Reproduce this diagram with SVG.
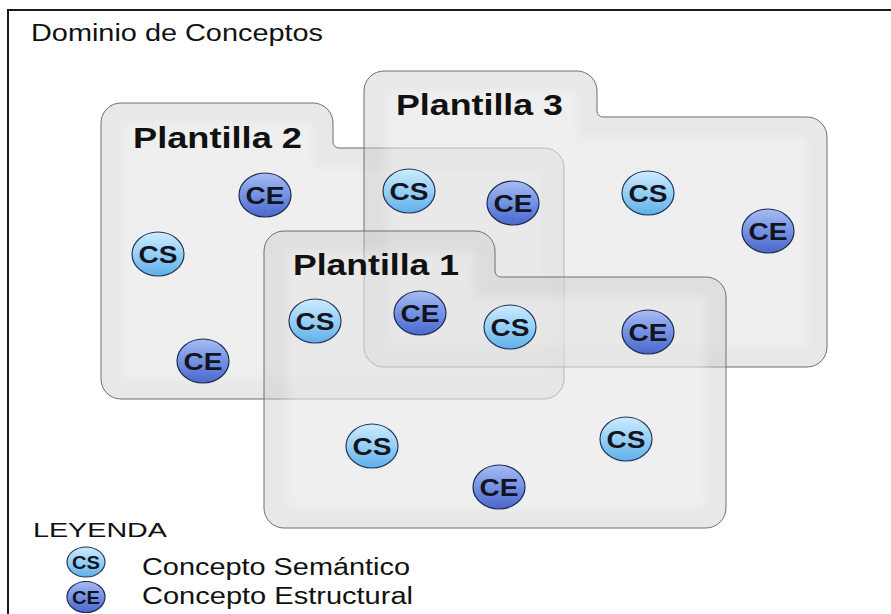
<svg xmlns="http://www.w3.org/2000/svg" width="891" height="614" viewBox="0 0 891 614">
<style>
  text { font-family: "Liberation Sans", Arial, sans-serif; fill: #111; }
  .box { fill: #cdcdcd; fill-opacity: 0.45; stroke: #6e6e6e; stroke-width: 1; }
  .inner { fill: #ffffff; fill-opacity: 0.3; filter: url(#soft); }
  .ptitle { font-size: 30px; font-weight: bold; }
  .cs ellipse { fill: url(#gcs); stroke: #25365a; stroke-width: 1.2; }
  .ce ellipse { fill: url(#gce); stroke: #1c2a52; stroke-width: 1.2; }
  .nlab { font-size: 24px; font-weight: bold; text-anchor: middle; fill: #14141e; }
  .llab { font-size: 18px; font-weight: bold; text-anchor: middle; fill: #14141e; }
  .leg { font-size: 23px; }
</style>
<defs>
  <linearGradient id="gcs" x1="0" y1="0" x2="0" y2="1">
    <stop offset="0" stop-color="#cdebfd"/>
    <stop offset="0.5" stop-color="#96d0f6"/>
    <stop offset="1" stop-color="#5fb0ea"/>
  </linearGradient>
  <linearGradient id="gce" x1="0" y1="0" x2="0" y2="1">
    <stop offset="0" stop-color="#a8bcf3"/>
    <stop offset="0.5" stop-color="#7392e3"/>
    <stop offset="1" stop-color="#4a68cc"/>
  </linearGradient>
  <filter id="soft" x="-10%" y="-10%" width="120%" height="120%">
    <feGaussianBlur stdDeviation="5"/>
  </filter>
</defs>
<rect width="891" height="614" fill="#ffffff"/>
<rect x="8" y="10" width="920" height="640" fill="none" stroke="#1a1a1a" stroke-width="2"/>
<text x="31" y="41" font-size="23" textLength="292" lengthAdjust="spacingAndGlyphs">Dominio de Conceptos</text>

<g id="plantilla2">
  <path class="box" d="M101,123 A20,20 0 0 1 121,103 H313 A20,20 0 0 1 333,123 V142 A6,6 0 0 0 339,148 H544 A20,20 0 0 1 564,168 V379 A20,20 0 0 1 544,399 H121 A20,20 0 0 1 101,379 Z"/>
  <path class="inner" d="M124,123 H313 V168 H544 V379 H124 Z"/>
</g>
<g id="plantilla3">
  <path class="box" d="M364,91 A20,20 0 0 1 384,71 H577 A20,20 0 0 1 597,91 V111 A6,6 0 0 0 603,117 H807 A20,20 0 0 1 827,137 V347 A20,20 0 0 1 807,367 H384 A20,20 0 0 1 364,347 Z"/>
  <path class="inner" d="M387,91 H577 V137 H807 V347 H387 Z"/>
</g>
<g id="plantilla1">
  <path class="box" d="M264,251 A20,20 0 0 1 284,231 H475 A20,20 0 0 1 495,251 V271 A6,6 0 0 0 501,277 H706 A20,20 0 0 1 726,297 V508 A20,20 0 0 1 706,528 H284 A20,20 0 0 1 264,508 Z"/>
  <path class="inner" d="M287,251 H475 V297 H706 V508 H287 Z"/>
</g>

<g id="labels">
  <text class="ptitle" x="133" y="148" textLength="169" lengthAdjust="spacingAndGlyphs">Plantilla 2</text>
  <text class="ptitle" x="396" y="115" textLength="167" lengthAdjust="spacingAndGlyphs">Plantilla 3</text>
  <text class="ptitle" x="293" y="275" textLength="166" lengthAdjust="spacingAndGlyphs">Plantilla 1</text>
</g>

<g id="connectors"/>

<g id="ce1" class="ce"><ellipse cx="265" cy="195" rx="26" ry="22"/><text class="nlab" x="265" y="203.5" textLength="39" lengthAdjust="spacingAndGlyphs">CE</text></g>
<g id="cs1" class="cs"><ellipse cx="158" cy="254" rx="26" ry="22"/><text class="nlab" x="158" y="262.5" textLength="39" lengthAdjust="spacingAndGlyphs">CS</text></g>
<g id="ce2" class="ce"><ellipse cx="203" cy="361" rx="26" ry="22"/><text class="nlab" x="203" y="369.5" textLength="39" lengthAdjust="spacingAndGlyphs">CE</text></g>
<g id="cs2" class="cs"><ellipse cx="409" cy="191" rx="26" ry="22"/><text class="nlab" x="409" y="199.5" textLength="39" lengthAdjust="spacingAndGlyphs">CS</text></g>
<g id="ce3" class="ce"><ellipse cx="513" cy="203" rx="26" ry="22"/><text class="nlab" x="513" y="211.5" textLength="39" lengthAdjust="spacingAndGlyphs">CE</text></g>
<g id="cs3" class="cs"><ellipse cx="648" cy="193" rx="26" ry="22"/><text class="nlab" x="648" y="201.5" textLength="39" lengthAdjust="spacingAndGlyphs">CS</text></g>
<g id="ce4" class="ce"><ellipse cx="768" cy="231" rx="26" ry="22"/><text class="nlab" x="768" y="239.5" textLength="39" lengthAdjust="spacingAndGlyphs">CE</text></g>
<g id="cs4" class="cs"><ellipse cx="315" cy="321" rx="26" ry="22"/><text class="nlab" x="315" y="329.5" textLength="39" lengthAdjust="spacingAndGlyphs">CS</text></g>
<g id="ce5" class="ce"><ellipse cx="420" cy="313" rx="26" ry="22"/><text class="nlab" x="420" y="321.5" textLength="39" lengthAdjust="spacingAndGlyphs">CE</text></g>
<g id="cs5" class="cs"><ellipse cx="510" cy="327" rx="26" ry="22"/><text class="nlab" x="510" y="335.5" textLength="39" lengthAdjust="spacingAndGlyphs">CS</text></g>
<g id="ce6" class="ce"><ellipse cx="648" cy="332" rx="26" ry="22"/><text class="nlab" x="648" y="340.5" textLength="39" lengthAdjust="spacingAndGlyphs">CE</text></g>
<g id="cs6" class="cs"><ellipse cx="372" cy="446" rx="26" ry="22"/><text class="nlab" x="372" y="454.5" textLength="39" lengthAdjust="spacingAndGlyphs">CS</text></g>
<g id="cs7" class="cs"><ellipse cx="626" cy="439" rx="26" ry="22"/><text class="nlab" x="626" y="447.5" textLength="39" lengthAdjust="spacingAndGlyphs">CS</text></g>
<g id="ce7" class="ce"><ellipse cx="499" cy="487" rx="26" ry="22"/><text class="nlab" x="499" y="495.5" textLength="39" lengthAdjust="spacingAndGlyphs">CE</text></g>

<g id="legend">
  <text x="33" y="537" font-size="21" textLength="134" lengthAdjust="spacingAndGlyphs">LEYENDA</text>
  <g id="legend-cs" class="cs"><ellipse cx="86" cy="562" rx="19" ry="15"/><text class="llab" x="86" y="568.5" textLength="28" lengthAdjust="spacingAndGlyphs">CS</text></g>
  <g id="legend-ce" class="ce"><ellipse cx="86" cy="597" rx="19" ry="15.5"/><text class="llab" x="86" y="603.5" textLength="28" lengthAdjust="spacingAndGlyphs">CE</text></g>
  <text class="leg" x="142" y="575" textLength="268" lengthAdjust="spacingAndGlyphs">Concepto Semántico</text>
  <text class="leg" x="142" y="604" textLength="271" lengthAdjust="spacingAndGlyphs">Concepto Estructural</text>
</g>
</svg>
